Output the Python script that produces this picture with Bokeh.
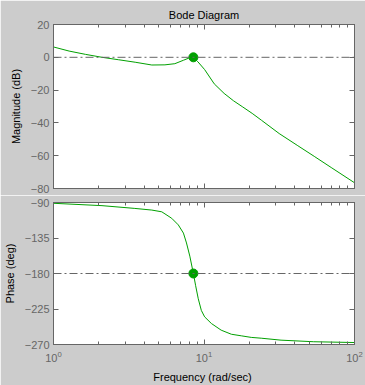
from bokeh.plotting import figure
from bokeh.layouts import column
from bokeh.models import LogAxis, LinearAxis, FixedTicker, LogTicker, Span, Range1d
from bokeh.embed import file_html
from bokeh.resources import INLINE

# ---- data ----
mag_freq = [1.0, 1.27, 1.63, 2.1, 2.71, 3.49, 4.5, 5.5, 6.4, 7.3, 7.9, 8.5, 9.1,
            10.1, 11.7, 13.6, 15.7, 18.1, 20.9, 24.1, 31.6, 42.0, 54.0, 70.0, 100.0]
mag_db = [6.3, 3.8, 1.8, 0.0, -1.5, -3.0, -4.7, -4.6, -3.9, -1.8, -0.55, 0.0, -2.7,
          -7.5, -16.2, -22.0, -26.5, -30.3, -34.2, -38.4, -46.5, -53.9, -60.4, -67.2, -76.5]

phase_freq = [1.0, 2.1, 3.47, 4.5, 5.24, 6.1, 6.75, 7.3, 7.65, 8.05, 8.5, 8.8, 9.16,
              9.6, 10.1, 11.2, 13.0, 15.2, 17.7, 20.6, 24.0, 32.5, 53.6, 100.0]
phase_deg = [-91.0, -94.0, -97.5, -99.6, -101.8, -110.0, -118.4, -128.8, -141.3, -158.0,
             -180.0, -195.5, -212.0, -226.8, -235.0, -243.4, -251.8, -257.0, -259.0,
             -261.0, -262.0, -264.5, -266.5, -267.5]

cross_freq = [8.5]
cross_mag = [0.0]
cross_phase = [-180.0]

mag_ticks = [-80, -60, -40, -20, 0, 20]
phase_ticks = [-270, -225, -180, -135, -90]
mag_ref = 0
phase_ref = -180

FONT = "Liberation Sans"
BG = "#cccccc"
AX = "#666666"
GREEN = "#00a000"
W = 365


def style_axis(ax, labels=True, minor=False):
    ax.axis_line_color = AX
    ax.major_tick_line_color = AX
    ax.minor_tick_line_color = AX if minor else None
    ax.major_tick_in = 5
    ax.major_tick_out = 0
    ax.minor_tick_in = 3
    ax.minor_tick_out = 0
    ax.major_label_text_color = AX
    ax.major_label_text_font = FONT
    ax.major_label_text_font_size = "11px" if labels else "1px"
    ax.major_label_text_alpha = 1.0 if labels else 0.0
    ax.major_label_standoff = 4 if labels else 0
    ax.axis_label_text_font = FONT
    ax.axis_label_text_font_size = "11px"
    ax.axis_label_text_font_style = "normal"
    ax.axis_label_text_color = "black"


xr = Range1d(1, 100)

p1 = figure(width=W, height=195, x_axis_type="log", x_range=xr, y_range=Range1d(-80, 20),
            output_backend="svg", toolbar_location=None, title="Bode Diagram",
            min_border_left=51, min_border_right=11, min_border_top=24, min_border_bottom=7)
p2 = figure(width=W, height=190, x_axis_type="log", x_range=xr, y_range=Range1d(-270, -90),
            output_backend="svg", toolbar_location=None,
            min_border_left=51, min_border_right=11, min_border_top=7, min_border_bottom=39)

for p, ticks, lab, show_x in ((p1, mag_ticks, "Magnitude (dB)", False),
                               (p2, phase_ticks, "Phase (deg)", True)):
    p.background_fill_color = "white"
    p.border_fill_color = BG
    p.outline_line_color = AX
    p.grid.visible = False
    p.below[0].ticker = LogTicker(num_minor_ticks=10)
    style_axis(p.below[0], labels=show_x, minor=True)
    p.left[0].ticker = FixedTicker(ticks=ticks)
    style_axis(p.left[0], labels=True)
    p.left[0].axis_label = lab
    p.left[0].axis_label_standoff = 6
    top = LogAxis(ticker=LogTicker(num_minor_ticks=10))
    style_axis(top, labels=False, minor=True)
    p.add_layout(top, "above")
    right = LinearAxis(ticker=FixedTicker(ticks=ticks))
    style_axis(right, labels=False)
    p.add_layout(right, "right")

p2.below[0].axis_label = "Frequency  (rad/sec)"
p2.below[0].major_label_standoff = 6
p2.below[0].axis_label_standoff = 6

p1.title.text_font = FONT
p1.title.text_font_size = "11px"
p1.title.text_font_style = "normal"
p1.title.text_color = "black"
p1.title.align = "center"
p1.title.vertical_align = "top"
p1.title.standoff = 4

p1.add_layout(Span(location=mag_ref, dimension="width", line_color=AX,
                   line_dash="8 3 2 3", line_width=1))
p2.add_layout(Span(location=phase_ref, dimension="width", line_color=AX,
                   line_dash="8 3 2 3", line_width=1))

p1.line(mag_freq, mag_db, line_color=GREEN, line_width=1)
p2.line(phase_freq, phase_deg, line_color=GREEN, line_width=1)
p1.scatter(cross_freq, cross_mag, size=9, color=GREEN)
p2.scatter(cross_freq, cross_phase, size=9, color=GREEN)

layout = column(p1, p2, spacing=0, margin=0)

open("out.html", "w").write(file_html(layout, INLINE))
